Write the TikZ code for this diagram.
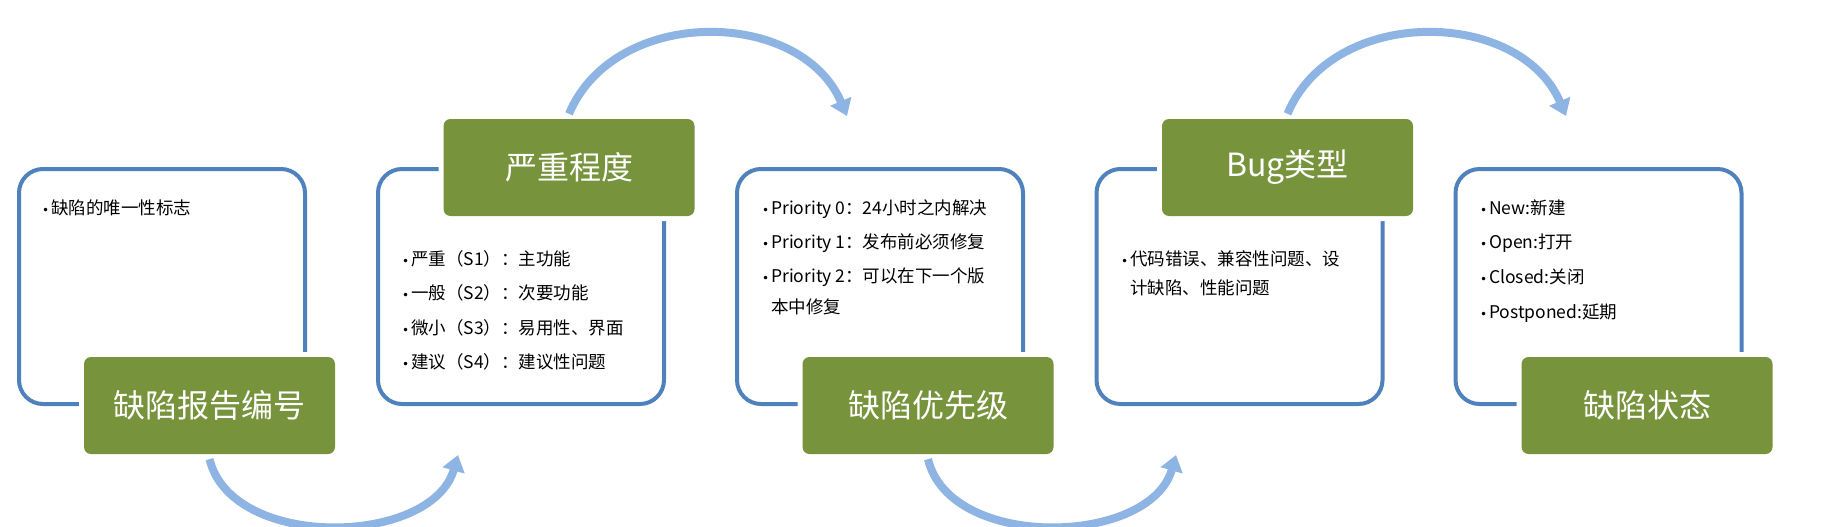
\documentclass[tikz,border=0pt]{standalone}
\usepackage{fontspec}
\setmainfont{Noto Sans CJK SC}
\newfontfamily\bulfont{DejaVu Sans}
\usetikzlibrary{arrows.meta}
\definecolor{boxblue}{HTML}{4F81BD}
\definecolor{lblgreen}{HTML}{77933C}
\definecolor{arrblue}{HTML}{8DB4E2}
\tikzset{
  infobox/.style={draw=boxblue, line width=4pt, fill=white, rounded corners=24pt,
    minimum width=286pt, minimum height=235pt, inner sep=0pt},
  lbl/.style={fill=lblgreen, rounded corners=7pt, minimum width=251pt, minimum height=97pt,
    text=white, font=\fontsize{32}{38}\selectfont, inner sep=0pt,
    preaction={draw=white, line width=10pt}},
  item/.style={anchor=base west, font=\fontsize{17.5}{21}\selectfont, inner sep=0pt},
  flow/.style={draw=arrblue, line width=8pt, -{Triangle[width=22pt,length=16pt]}},
}
\newcommand{\bul}{\makebox[9pt][l]{\bulfont\fontsize{12}{12}\selectfont •}}
\begin{document}
\begin{tikzpicture}[x=1pt,y=-1pt]
\useasboundingbox[fill=white] (0,0) rectangle (1825,527);
% content boxes
\node[infobox] (b1) at (162,286.5) {};
\node[infobox] (b2) at (521,286.5) {};
\node[infobox] (b3) at (880,286.5) {};
\node[infobox] (b4) at (1239.5,286.5) {};
\node[infobox] (b5) at (1598.5,286.5) {};
% labels
\node[lbl] (l1) at (209.5,405.5) {缺陷报告编号};
\node[lbl] (l2) at (569,167.5) {严重程度};
\node[lbl] (l3) at (928,405.5) {缺陷优先级};
\node[lbl] (l4) at (1287.5,167.5) {Bug类型};
\node[lbl] (l5) at (1647,405.5) {缺陷状态};
% items
\node[item] (i11) at (42,214) {\bul 缺陷的唯一性标志};
\node[item] (i21) at (402,265) {\bul 严重（S1）：主功能};
\node[item] (i22) at (402,299) {\bul 一般（S2）：次要功能};
\node[item] (i23) at (402,334) {\bul 微小（S3）：易用性、界面};
\node[item] (i24) at (402,368) {\bul 建议（S4）：建议性问题};
\node[item] (i31) at (762,214) {\bul Priority 0：24小时之内解决};
\node[item] (i32) at (762,248) {\bul Priority 1：发布前必须修复};
\node[item] (i33) at (762,282) {\bul Priority 2：可以在下一个版};
\node[item] (i34) at (771,313) {本中修复};
\node[item] (i41) at (1121,265) {\bul 代码错误、兼容性问题、设};
\node[item] (i42) at (1130,294) {计缺陷、性能问题};
\node[item] (i51) at (1480,214) {\bul New:新建};
\node[item] (i52) at (1480,248) {\bul Open:打开};
\node[item] (i53) at (1480,283) {\bul Closed:关闭};
\node[item] (i54) at (1480,318) {\bul Postponed:延期};
% arrow ends
\coordinate (t1) at (458,455);
\coordinate (t2) at (847,116);
\coordinate (t3) at (1176,455);
\coordinate (t4) at (1566,116);
% connectors
\draw[flow] ([yshift=-5pt]l1.south) .. controls (232,551) and (432,546) .. (t1);
\draw[flow] ([yshift=5pt]l2.north) .. controls (615,5) and (801,8) .. (t2);
\draw[flow] ([yshift=-5pt]l3.south) .. controls (950,551) and (1150,546) .. (t3);
\draw[flow] ([yshift=5pt]l4.north) .. controls (1333,5) and (1520,8) .. (t4);
\end{tikzpicture}
\end{document}
